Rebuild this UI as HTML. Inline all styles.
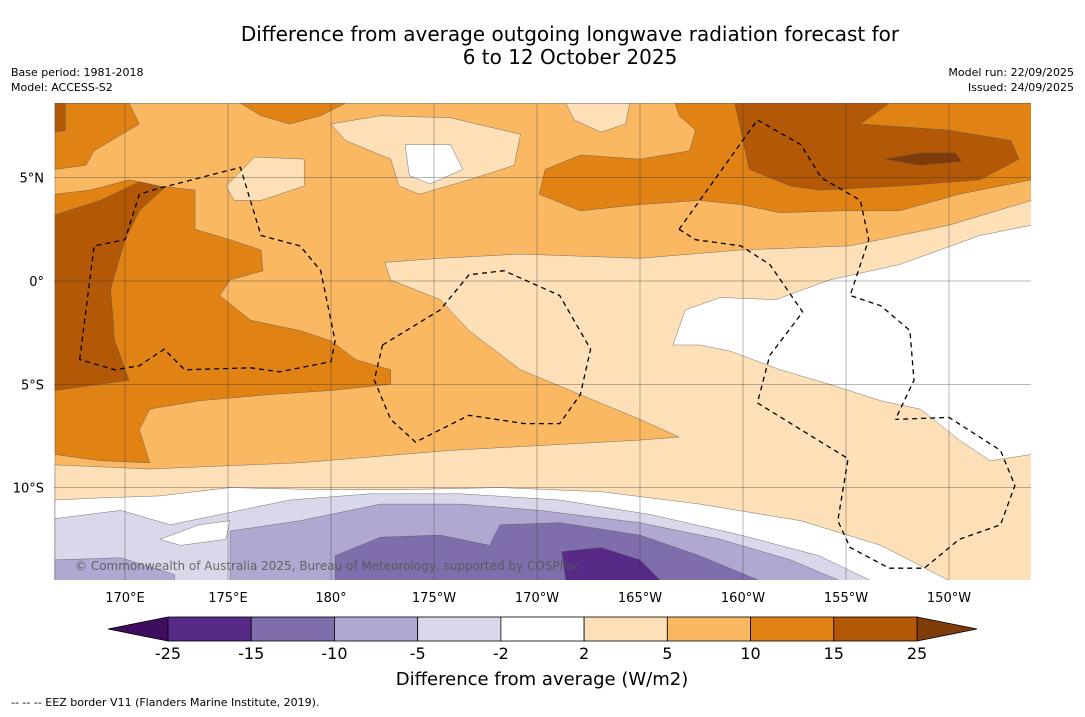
<!DOCTYPE html>
<html><head><meta charset="utf-8">
<style>
html,body{margin:0;padding:0;background:#fff;}
body{width:1085px;height:713px;overflow:hidden;font-family:"DejaVu Sans","Liberation Sans",sans-serif;}
svg text{font-family:"DejaVu Sans","Liberation Sans",sans-serif;}
</style></head>
<body>
<svg id="chart" width="1085" height="713" xmlns="http://www.w3.org/2000/svg">
<text x="570" y="41" font-size="20" text-anchor="middle" fill="#000">Difference from average outgoing longwave radiation forecast for</text>
<text x="570" y="64" font-size="20" text-anchor="middle" fill="#000">6 to 12 October 2025</text>
<text x="11" y="76" font-size="11">Base period: 1981-2018</text>
<text x="11" y="91" font-size="11">Model: ACCESS-S2</text>
<text x="1074" y="76" font-size="11" text-anchor="end">Model run: 22/09/2025</text>
<text x="1074" y="91" font-size="11" text-anchor="end">Issued: 24/09/2025</text>
<defs><clipPath id="mapclip"><rect x="54" y="103" width="977" height="477"/></clipPath></defs>
<g id="map" clip-path="url(#mapclip)"></g>
<g id="axes"></g>
<g id="cbar"></g>
<text x="542" y="685" font-size="18" text-anchor="middle">Difference from average (W/m2)</text>
<text x="11" y="706" font-size="11">--  --  -- EEZ border V11 (Flanders Marine Institute, 2019).</text>
</svg>
<script>
// colour bar data
const levelLabels = ["-25","-15","-10","-5","-2","2","5","10","15","25"];
const levelColors = ["#572a88","#7f6eab","#b0a8d0","#d9d8ea","#ffffff","#fde0b7","#fbb862","#e08214","#b35806"];
const underColor = "#3f0d5e";
const overColor = "#7f3b08";
// axis ticks
const lonTicks = [170,175,180,185,190,195,200,205,210];
const lonTickLabels = ["170°E","175°E","180°","175°W","170°W","165°W","160°W","155°W","150°W"];
const latTicks = [5,0,-5,-10];
const latTickLabels = ["5°N","0°","5°S","10°S"];
// contour regions [lon(0-360), lat]
const regions = [
 {c:"#fbb862", name:"base-5-10", p:[[166.6,8.6],[214,8.6],[214,-14.5],[166.6,-14.5]]},
 {c:"#fde0b7", name:"band-2-5-main", p:[[166.6,-8.9],[171.2,-9.1],[178.5,-8.8],[185.8,-8.2],[195,-7.7],[196.9,-7.55],[195,-6.7],[192.1,-5.5],[189.2,-4.3],[186.7,-2.4],[185.3,-0.9],[182.9,0.05],[182.6,0.9],[185.3,1.1],[189.2,1.3],[195,1.1],[199.9,1.5],[205.2,1.7],[210,2.7],[214,3.9],[214,-14.5],[166.6,-14.5]]},
 {c:"#fde0b7", name:"band-2-5-north", p:[[180,7.6],[182.4,8.0],[185.8,7.9],[189.2,7.1],[188.9,5.6],[186.7,4.9],[184.3,4.2],[183.3,4.6],[182.9,5.9],[180.7,6.8]]},
 {c:"#ffffff", name:"band-white-north", p:[[183.6,6.6],[185.8,6.6],[186.4,5.4],[184.8,4.7],[183.8,5.1]]},
 {c:"#fde0b7", name:"band-2-5-top", p:[[191.4,8.6],[194.5,8.6],[194.3,7.6],[193.1,7.2],[191.8,7.8]]},
 {c:"#fde0b7", name:"band-2-5-topright", p:[[210.8,8.6],[214,8.6],[214,7.8],[212,8.2]]},
 {c:"#fde0b7", name:"band-2-5-west", p:[[174.9,4.6],[176.3,6.0],[178.7,5.9],[178.7,4.6],[176.6,3.9],[175.3,3.9]]},
 {c:"#ffffff", name:"band-white-east", p:[[196.6,-3.1],[197.2,-1.4],[198.9,-0.8],[201.6,-0.9],[204.2,0.05],[207.6,0.8],[211.5,2.2],[214,2.7],[214,-8.4],[212,-8.7],[210.5,-7.7],[208.6,-6.2],[206.7,-5.8],[204.2,-5.0],[201.8,-4.3],[199.4,-3.4],[197.9,-3.1]]},
 {c:"#e08214", name:"band-10-15-west", p:[[166.6,4.2],[168.3,4.4],[170.2,4.9],[171.7,4.6],[173.4,4.4],[173.4,2.5],[175.1,2.0],[176.6,1.5],[176.7,0.5],[175.1,0.05],[174.6,-0.7],[176.1,-1.9],[178.5,-2.4],[180,-2.9],[181.2,-3.8],[182.9,-4.3],[182.9,-5.0],[180,-5.3],[177,-5.5],[173.6,-5.8],[171.2,-6.2],[170.7,-7.2],[171.2,-8.8],[168.8,-8.7],[166.6,-8.4]]},
 {c:"#e08214", name:"band-10-15-nw", p:[[166.6,8.6],[170.2,8.6],[170.7,7.6],[168.5,6.3],[168.1,5.6],[166.6,5.4]]},
 {c:"#e08214", name:"band-10-15-ntop", p:[[175.6,8.6],[180.7,8.6],[179.5,8.0],[178,7.6],[176.6,8.0]]},
 {c:"#e08214", name:"band-10-15-ne", p:[[196.7,8.6],[214,8.6],[214,4.9],[210.5,4.2],[207.6,3.4],[204.7,3.4],[201.8,3.3],[199.9,3.7],[197.9,3.9],[195,3.7],[192.1,3.4],[190.1,4.2],[190.4,5.4],[192.1,6.1],[195,5.9],[197.4,6.3],[197.7,7.3],[196.9,8.0]]},
 {c:"#b35806", name:"band-15-25-west", p:[[166.6,3.2],[168.8,3.9],[170.7,4.8],[171.9,4.5],[170.7,3.4],[170,2.0],[169.3,-0.4],[169.5,-2.9],[170.2,-4.8],[166.6,-5.3]]},
 {c:"#b35806", name:"band-15-25-corner", p:[[166.6,8.6],[167.1,8.6],[167.1,7.3],[166.6,7.2]]},
 {c:"#b35806", name:"band-15-25-ne", p:[[199.6,8.6],[207.1,8.6],[205.7,7.6],[210,7.3],[213,6.8],[213.4,5.9],[211.5,4.9],[207.6,4.6],[203.7,4.4],[202.3,4.6],[200.3,5.4],[199.9,7.3]]},
 {c:"#7f3b08", name:"band-over-25", p:[[206.9,5.9],[208.6,6.2],[210.3,6.2],[210.6,5.8],[208.6,5.6]]},
 {c:"#ffffff", name:"band-white-south", p:[[166.6,-10.6],[168.8,-10.5],[171.7,-10.4],[175.1,-10],[179.5,-10.1],[183.3,-10.1],[188.2,-10],[193.1,-10.2],[197.9,-10.8],[202.8,-11.6],[206.7,-12.8],[210,-14.5],[166.6,-14.5]]},
 {c:"#d9d8ea", name:"band-neg5-neg2", p:[[166.6,-11.5],[169.8,-11.1],[172.2,-11.8],[175.1,-11.2],[178,-10.6],[181.9,-10.3],[186.3,-10.3],[191.1,-10.6],[195.5,-11.3],[199.9,-12.3],[203.7,-13.3],[206.2,-14.5],[166.6,-14.5]]},
 {c:"#ffffff", name:"band-white-pocket", p:[[171.7,-12.5],[173.6,-11.8],[175.1,-11.6],[174.9,-12.5],[172.7,-12.8]]},
 {c:"#b0a8d0", name:"band-neg10-neg5-west", p:[[166.6,-13.5],[169.8,-13.4],[172.4,-14.2],[172.4,-14.5],[166.6,-14.5]]},
 {c:"#b0a8d0", name:"band-neg10-neg5", p:[[175.1,-12.1],[178.5,-11.6],[182.4,-10.8],[186.3,-10.8],[190.1,-11.1],[195,-11.7],[198.9,-12.5],[202.3,-13.5],[204.7,-14.5],[175.1,-14.5]]},
 {c:"#7f6eab", name:"band-neg15-neg10", p:[[180.2,-13.3],[182.4,-12.4],[185.3,-12.3],[187.7,-12.8],[188.2,-11.8],[191.1,-11.7],[195,-12.3],[197.9,-13.3],[200.8,-14.5],[180.2,-14.5]]},
 {c:"#572a88", name:"band-neg25-neg15", p:[[191.2,-13.1],[193.1,-12.9],[195,-13.5],[196,-14.5],[191.4,-14.5]]}
];
// EEZ borders
const eezLines = [
 [[167.8,-3.8],[168.5,1.7],[170,2.0],[170.7,4.2],[171.7,4.5],[175.6,5.5],[176.6,2.2],[178.5,1.7],[179.5,0.5],[180.2,-2.9],[180,-3.9],[177.5,-4.4],[176.1,-4.2],[172.9,-4.3],[171.9,-3.3],[170.7,-4.1],[169.5,-4.3],[167.8,-3.8]],
 [[182.5,-3.1],[185.3,-1.4],[186.7,0.3],[188.4,0.5],[191.1,-0.7],[192.6,-3.3],[192.1,-5.5],[191.1,-6.9],[189.4,-6.9],[186.7,-6.5],[184.1,-7.8],[182.9,-6.7],[182.1,-4.8],[182.5,-3.1]],
 [[196.9,2.5],[197.7,2.0],[199.9,1.7],[201.3,0.8],[202.9,-1.5],[201.3,-3.6],[200.7,-5.9],[205.1,-8.6],[204.6,-11.6],[205.2,-12.9],[207.1,-13.9],[208.8,-13.9],[210.5,-12.5],[212.5,-11.8],[213.2,-9.9],[212.5,-8.2],[210,-6.6],[207.4,-6.7]],
 [[196.9,2.5],[200.7,7.8],[202.8,6.6],[203.8,5.0],[205.7,3.9],[206.1,2.0],[205.2,-0.7],[206.7,-1.2],[208.1,-2.4],[208.3,-4.8],[207.4,-6.7]]
];
const X0=125, PXDEG=20.6, Y0=281, PYDEG=20.66;
const xs = lon => X0 + (lon-170)*PXDEG;
const ys = lat => Y0 - lat*PYDEG;
const NS="http://www.w3.org/2000/svg";
function mk(tag, parent){const e=document.createElementNS(NS,tag);parent.appendChild(e);return e;}
const map=document.getElementById('map');
regions.forEach(r=>{
  const e=mk('polygon',map);
  
  
  e.setAttribute('points', r.p.map(q=>xs(q[0]).toFixed(1)+','+ys(q[1]).toFixed(1)).join(' '));
  e.setAttribute('fill', r.c);
  e.setAttribute('stroke', '#555');
  e.setAttribute('stroke-width', '0.4');
  e.setAttribute('stroke-linejoin', 'round');
});
// gridlines
lonTicks.forEach(l=>{
  const e=mk('line',map);
  
  
  e.setAttribute('x1',xs(l));e.setAttribute('x2',xs(l));e.setAttribute('y1',103);e.setAttribute('y2',580);
  e.setAttribute('stroke','#333');e.setAttribute('stroke-width','0.35');
});
latTicks.forEach(l=>{
  const e=mk('line',map);
  
  
  e.setAttribute('y1',ys(l));e.setAttribute('y2',ys(l));e.setAttribute('x1',54);e.setAttribute('x2',1031);
  e.setAttribute('stroke','#333');e.setAttribute('stroke-width','0.35');
});
eezLines.forEach(L=>{
  const e=mk('polyline',map);
  
  
  e.setAttribute('points', L.map(q=>xs(q[0]).toFixed(1)+','+ys(q[1]).toFixed(1)).join(' '));
  e.setAttribute('fill','none');e.setAttribute('stroke','#000');e.setAttribute('stroke-width','1.3');
  e.setAttribute('stroke-dasharray','5,4');
});
const wm=mk('text',map);


wm.setAttribute('x',75);wm.setAttribute('y',570);wm.setAttribute('font-size','12');wm.setAttribute('fill','#555');wm.setAttribute('fill-opacity','0.85');
wm.textContent='© Commonwealth of Australia 2025, Bureau of Meteorology, supported by COSPPac';
// axis labels
const axes=document.getElementById('axes');
lonTicks.forEach((l,i)=>{
  const t=mk('text',axes);
  
  
  t.setAttribute('x',xs(l));t.setAttribute('y',602);t.setAttribute('font-size','13');t.setAttribute('text-anchor','middle');
  t.textContent=lonTickLabels[i];
});
latTicks.forEach((l,i)=>{
  const t=mk('text',axes);
  
  
  t.setAttribute('x',44);t.setAttribute('y',ys(l)+5);t.setAttribute('font-size','13');t.setAttribute('text-anchor','end');
  t.textContent=latTickLabels[i];
});
// colorbar
const cb=document.getElementById('cbar');
const CB0=168, CB1=917, CBY=617, CBH=24;
const segW=(CB1-CB0)/levelColors.length;
const under=mk('polygon',cb);


under.setAttribute('points',`${CB0},${CBY} 108,${CBY+CBH/2} ${CB0},${CBY+CBH}`);
under.setAttribute('fill',underColor);under.setAttribute('stroke','#000');under.setAttribute('stroke-width','0.8');
const over=mk('polygon',cb);


over.setAttribute('points',`${CB1},${CBY} 977,${CBY+CBH/2} ${CB1},${CBY+CBH}`);
over.setAttribute('fill',overColor);over.setAttribute('stroke','#000');over.setAttribute('stroke-width','0.8');
levelColors.forEach((c,i)=>{
  const r=mk('rect',cb);
  
  
  r.setAttribute('x',CB0+i*segW);r.setAttribute('y',CBY);r.setAttribute('width',segW);r.setAttribute('height',CBH);
  r.setAttribute('fill',c);r.setAttribute('stroke','#000');r.setAttribute('stroke-width','0.8');
});
levelLabels.forEach((s,i)=>{
  const t=mk('text',cb);
  
  
  t.setAttribute('x',CB0+i*segW);t.setAttribute('y',659);t.setAttribute('font-size','16');t.setAttribute('text-anchor','middle');
  t.textContent=s;
});
</script>
</body></html>
